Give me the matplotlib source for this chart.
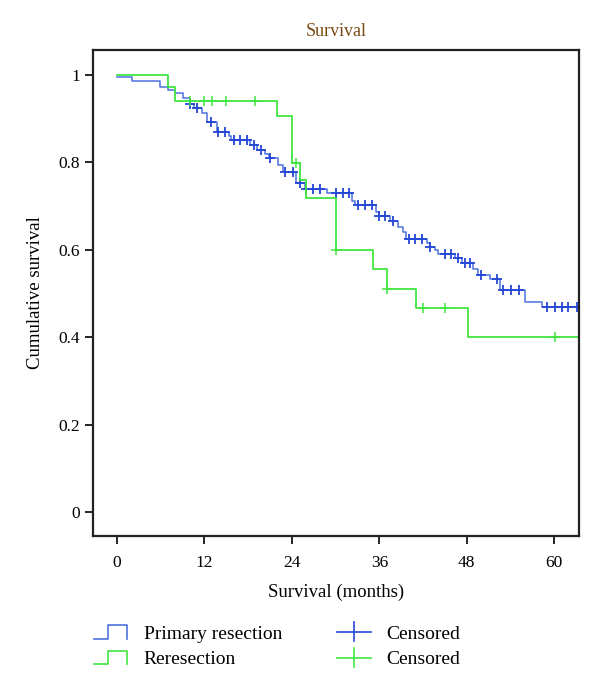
import numpy as np
import matplotlib
matplotlib.use("Agg")
import matplotlib.pyplot as plt
from matplotlib.legend_handler import HandlerBase
from matplotlib.lines import Line2D

plt.rcParams['font.family'] = ['Liberation Serif', 'DejaVu Serif']

# Primary resection: event times (months) and survival after each step
prim_t = [0, 2.0, 5.9, 7.0, 8.0, 9.0, 10.0, 10.5, 11.6, 12.3, 13.7, 15.3, 15.7,
          18.2, 19.2, 20.3, 20.8, 22.1, 22.8, 24.6, 25.8, 28.8, 32.2, 32.7,
          35.6, 35.9, 37.5, 38.6, 39.3, 39.7, 42.5, 42.9, 43.6, 44.1, 46.4,
          47.3, 48.9, 49.6, 51.2, 52.5, 56.0, 58.3]
prim_s = [0.996, 0.986, 0.972, 0.965, 0.958, 0.947, 0.933, 0.925, 0.912, 0.893,
          0.870, 0.860, 0.850, 0.840, 0.828, 0.820, 0.810, 0.794, 0.778, 0.752,
          0.738, 0.729, 0.712, 0.702, 0.687, 0.677, 0.665, 0.652, 0.641, 0.624,
          0.616, 0.607, 0.600, 0.590, 0.580, 0.570, 0.557, 0.543, 0.534, 0.508,
          0.481, 0.469]
prim_cens_t = [10.0, 11.0, 12.9, 13.9, 14.8, 16.0, 16.9, 17.8, 18.8, 19.8, 21.0,
               23.0, 24.2, 25.1, 26.0, 26.9, 27.8, 30.1, 31.0, 31.8, 33.1, 34.0,
               35.0, 36.0, 36.8, 37.9, 40.1, 40.9, 41.9, 43.0, 45.0, 45.9, 46.8,
               47.7, 48.4, 50.0, 52.1, 53.0, 54.1, 55.1, 59.0, 60.1, 61.0, 61.9, 63.1]

# Reresection
rere_t = [0, 7.0, 8.0, 22.0, 24.0, 25.1, 26.0, 30.0, 35.1, 37.0, 41.0, 48.1]
rere_s = [1.0, 0.972, 0.941, 0.905, 0.798, 0.759, 0.718, 0.599, 0.555, 0.511, 0.466, 0.400]
rere_cens_t = [10.0, 12.0, 13.0, 15.0, 19.0, 24.5, 30.0, 37.0, 42.0, 45.0, 60.1]

xticks = [0, 12, 24, 36, 48, 60]
yticks = [0, 0.2, 0.4, 0.6, 0.8, 1]
ytick_labels = ['0', '0.2', '0.4', '0.6', '0.8', '1']

blue_line = '#4c72e0'
blue_mark = '#2447d6'
green = '#3fe63f'
xmax = 63.4


def km_at(times, surv, t):
    idx = np.searchsorted(times, t, side='right') - 1
    return np.asarray(surv)[idx]


class StepHandler(HandlerBase):
    def create_artists(self, legend, orig_handle, xdescent, ydescent,
                       width, height, fontsize, trans):
        x = np.array([0, 0.4, 0.4, 0.95, 0.95]) * width - xdescent
        y = np.array([0.0, 0.0, 1.0, 1.0, 0.0]) * height - ydescent
        ln = Line2D(x, y, color=orig_handle.get_color(), lw=1.2, transform=trans)
        return [ln]


class CrossHandler(HandlerBase):
    def create_artists(self, legend, orig_handle, xdescent, ydescent,
                       width, height, fontsize, trans):
        c = orig_handle.get_color()
        h = Line2D([-xdescent, width - xdescent], [height / 2 - ydescent] * 2,
                   color=c, lw=1.2, transform=trans)
        v = Line2D([width / 2 - xdescent] * 2, [-0.2 * height - ydescent, 1.2 * height - ydescent],
                   color=c, lw=1.2, transform=trans)
        return [h, v]


fig = plt.figure(figsize=(6, 6.89), dpi=100)
ax = fig.add_axes([0.155, 0.2221, 0.81, 0.7053])

pt = list(prim_t) + [xmax]
ps = list(prim_s) + [prim_s[-1]]
rt = list(rere_t) + [xmax]
rs = list(rere_s) + [rere_s[-1]]

l1, = ax.step(pt, ps, where='post', color=blue_line, lw=1.1)
ax.plot(prim_cens_t, km_at(prim_t, prim_s, prim_cens_t), '+', color=blue_mark,
        ms=7, mew=1.3)
l2, = ax.step(rt, rs, where='post', color=green, lw=1.3)
ax.plot(rere_cens_t, km_at(rere_t, rere_s, rere_cens_t), '+', color=green,
        ms=6.5, mew=1.1)

ax.set_xlim(-3.3, xmax)
ax.set_ylim(-0.055, 1.057)
ax.set_xticks(xticks)
ax.set_yticks(yticks)
ax.set_yticklabels(ytick_labels)
ax.tick_params(direction='out', length=6, width=1.2, labelsize=12.5, colors='black',
               top=False, right=False)
ax.tick_params(axis='x', pad=8)
for s in ax.spines.values():
    s.set_linewidth(1.6)
    s.set_color('#222222')

ax.set_title('Survival', color='#7a4a14', fontsize=13, pad=10)
ax.set_xlabel('Survival (months)', fontsize=13.5, labelpad=9)
ax.set_ylabel('Cumulative survival', fontsize=13.5, labelpad=10)

h_prim = Line2D([], [], color=blue_line)
h_rere = Line2D([], [], color=green)
h_pc = Line2D([], [], color=blue_mark)
h_rc = Line2D([], [], color=green)
fig.legend([h_prim, h_rere, h_pc, h_rc],
           ['Primary resection', 'Reresection', 'Censored', 'Censored'],
           handler_map={h_prim: StepHandler(), h_rere: StepHandler(),
                        h_pc: CrossHandler(), h_rc: CrossHandler()},
           ncol=2, frameon=False, fontsize=14, loc='upper left',
           bbox_to_anchor=(0.157, 0.093), handlelength=1.75, handletextpad=0.8,
           columnspacing=2.8, labelspacing=0.42, borderaxespad=0, borderpad=0)

fig.savefig('out.png', dpi=100)
